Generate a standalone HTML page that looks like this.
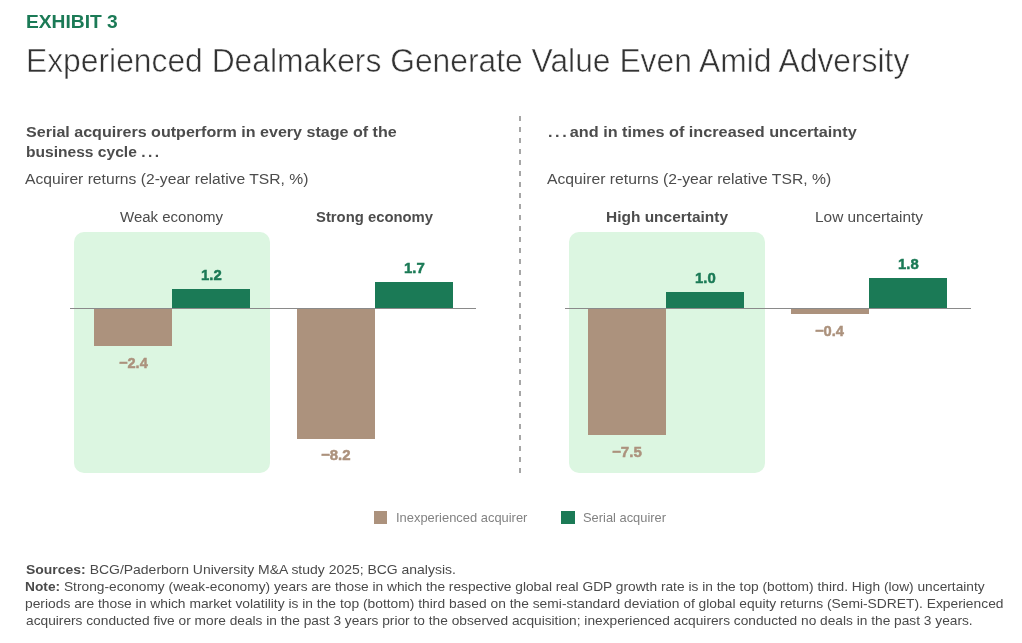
<!DOCTYPE html>
<html><head><meta charset="utf-8"><title>Exhibit 3</title>
<style>
html,body{margin:0;padding:0;background:#fff;}
body{width:1022px;height:643px;position:relative;overflow:hidden;font-family:"Liberation Sans",sans-serif;}
.t{position:absolute;white-space:nowrap;line-height:1;transform-origin:0 0;}
#txt{position:absolute;left:0;top:0;width:1022px;height:643px;will-change:transform;}
.t b{font-weight:700;}
.dots{letter-spacing:2.45px;}
.box{position:absolute;background:#dcf6e1;border-radius:10px;}
.br{position:absolute;background:#ac927d;}
.gr{position:absolute;background:#1b7a56;}
.ax{position:absolute;top:307.6px;height:1.5px;background:#8a8a8a;}
.dash{position:absolute;left:519px;top:115.7px;width:1.8px;height:357px;background:repeating-linear-gradient(to bottom,#a6a6a6 0,#a6a6a6 5.2px,transparent 5.2px,transparent 11px);}
</style></head><body>

<div class="box" style="left:74px;top:232.3px;width:195.7px;height:240.4px"></div>
<div class="box" style="left:568.9px;top:232.3px;width:196px;height:240.4px"></div>
<div class="dash"></div>
<div class="br" style="left:93.8px;top:308.5px;width:78.3px;height:37.9px"></div>
<div class="gr" style="left:172.1px;top:288.8px;width:78px;height:19.6px"></div>
<div class="br" style="left:296.5px;top:308.5px;width:78.3px;height:130.2px"></div>
<div class="gr" style="left:374.8px;top:281.9px;width:77.9px;height:26.5px"></div>
<div class="br" style="left:588px;top:308.5px;width:78.1px;height:126.6px"></div>
<div class="gr" style="left:666.1px;top:291.8px;width:77.9px;height:16.6px"></div>
<div class="br" style="left:790.9px;top:308.5px;width:78.1px;height:5.6px"></div>
<div class="gr" style="left:869px;top:277.8px;width:77.8px;height:30.6px"></div>
<div class="ax" style="left:70px;width:406px"></div>
<div class="ax" style="left:565px;width:405.5px"></div>
<div class="br" style="left:373.7px;top:511.1px;width:13.6px;height:13.4px"></div>
<div class="gr" style="left:561px;top:511.1px;width:13.7px;height:13.4px"></div>

<div id="txt">
<div class="t" id="ex" style="left:26.42px;top:12px;font-size:19px;font-weight:700;color:#1b7a56;transform:scaleX(1.0108);">EXHIBIT 3</div>
<div class="t" id="ttl" style="left:26.08px;top:43px;font-size:34px;font-weight:400;color:#333333;transform:scaleX(0.9354);-webkit-text-stroke:0.55px #fff;">Experienced Dealmakers Generate Value Even Amid Adversity</div>
<div class="t" id="h1a" style="left:26.42px;top:124px;font-size:15.5px;font-weight:700;color:#4c4c4c;transform:scaleX(1.0369);">Serial acquirers outperform in every stage of the</div>
<div class="t" id="h1b" style="left:25.59px;top:144px;font-size:15.5px;font-weight:700;color:#4c4c4c;transform:scaleX(1.0048);">business cycle <span class="dots">...</span></div>
<div class="t" id="s1" style="left:25.19px;top:171px;font-size:15.5px;font-weight:400;color:#4c4c4c;transform:scaleX(1.0101);">Acquirer returns (2-year relative TSR, %)</div>
<div class="t" id="h2" style="left:548.01px;top:124px;font-size:15.5px;font-weight:700;color:#4c4c4c;transform:scaleX(1.0474);"><span class="dots" style="margin-right:0.5px">...</span>and in times of increased uncertainty</div>
<div class="t" id="s2" style="left:547.39px;top:171px;font-size:15.5px;font-weight:400;color:#4c4c4c;transform:scaleX(1.0129);">Acquirer returns (2-year relative TSR, %)</div>
<div class="t" id="c1" style="left:120.40px;top:209px;font-size:15.2px;font-weight:400;color:#4c4c4c;transform:scaleX(0.9872);">Weak economy</div>
<div class="t" id="c2" style="left:315.91px;top:209px;font-size:15.2px;font-weight:700;color:#4c4c4c;transform:scaleX(0.9770);">Strong economy</div>
<div class="t" id="c3" style="left:605.97px;top:209px;font-size:15.2px;font-weight:700;color:#4c4c4c;transform:scaleX(1.0180);">High uncertainty</div>
<div class="t" id="c4" style="left:815.09px;top:209px;font-size:15.2px;font-weight:400;color:#4c4c4c;transform:scaleX(1.0147);">Low uncertainty</div>
<div class="t" id="v1" style="left:200.82px;top:267px;font-size:15.5px;font-weight:700;color:#1b7a56;transform:scaleX(0.9614);-webkit-text-stroke:0.5px #1b7a56;">1.2</div>
<div class="t" id="v2" style="left:118.83px;top:355px;font-size:15.5px;font-weight:700;color:#ac927d;transform:scaleX(0.9393);-webkit-text-stroke:0.5px #ac927d;">−2.4</div>
<div class="t" id="v3" style="left:404.02px;top:260px;font-size:15.5px;font-weight:700;color:#1b7a56;transform:scaleX(0.9653);-webkit-text-stroke:0.5px #1b7a56;">1.7</div>
<div class="t" id="v4" style="left:320.85px;top:447px;font-size:15.5px;font-weight:700;color:#ac927d;transform:scaleX(0.9668);-webkit-text-stroke:0.5px #ac927d;">−8.2</div>
<div class="t" id="v5" style="left:694.79px;top:270px;font-size:15.5px;font-weight:700;color:#1b7a56;transform:scaleX(0.9606);-webkit-text-stroke:0.5px #1b7a56;">1.0</div>
<div class="t" id="v6" style="left:612.14px;top:444px;font-size:15.5px;font-weight:700;color:#ac927d;transform:scaleX(0.9755);-webkit-text-stroke:0.5px #ac927d;">−7.5</div>
<div class="t" id="v7" style="left:897.79px;top:256px;font-size:15.5px;font-weight:700;color:#1b7a56;transform:scaleX(0.9599);-webkit-text-stroke:0.5px #1b7a56;">1.8</div>
<div class="t" id="v8" style="left:815.37px;top:323px;font-size:15.5px;font-weight:700;color:#ac927d;transform:scaleX(0.9487);-webkit-text-stroke:0.5px #ac927d;">−0.4</div>
<div class="t" id="l1" style="left:396.35px;top:511px;font-size:13.3px;font-weight:400;color:#828282;transform:scaleX(0.9714);">Inexperienced acquirer</div>
<div class="t" id="l2" style="left:583.22px;top:511px;font-size:13.3px;font-weight:400;color:#828282;transform:scaleX(0.9686);">Serial acquirer</div>
<div class="t" id="f1" style="left:25.87px;top:563px;font-size:13.5px;font-weight:400;color:#4a4a4a;transform:scaleX(1.0342);"><b>Sources:</b> BCG/Paderborn University M&amp;A study 2025; BCG analysis.</div>
<div class="t" id="f2" style="left:25.11px;top:580px;font-size:13.5px;font-weight:400;color:#4a4a4a;transform:scaleX(1.0178);"><b>Note:</b> Strong-economy (weak-economy) years are those in which the respective global real GDP growth rate is in the top (bottom) third. High (low) uncertainty</div>
<div class="t" id="f3" style="left:25.20px;top:597px;font-size:13.5px;font-weight:400;color:#4a4a4a;transform:scaleX(1.0236);">periods are those in which market volatility is in the top (bottom) third based on the semi-standard deviation of global equity returns (Semi-SDRET). Experienced</div>
<div class="t" id="f4" style="left:25.80px;top:614px;font-size:13.5px;font-weight:400;color:#4a4a4a;transform:scaleX(1.0165);">acquirers conducted five or more deals in the past 3 years prior to the observed acquisition; inexperienced acquirers conducted no deals in the past 3 years.</div>
</div>
</body></html>
